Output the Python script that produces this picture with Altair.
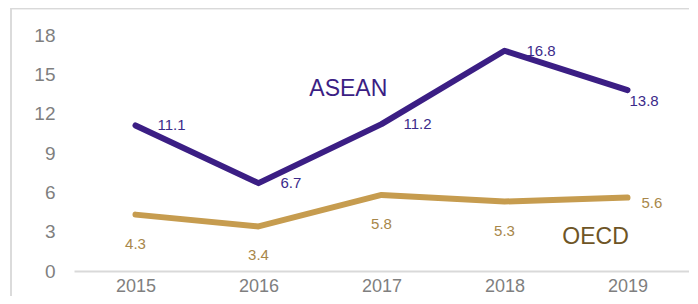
import altair as alt
import pandas as pd

years = [2015, 2016, 2017, 2018, 2019]
asean = [11.1, 6.7, 11.2, 16.8, 13.8]
oecd = [4.3, 3.4, 5.8, 5.3, 5.6]
y_ticks = [0, 3, 6, 9, 12, 15, 18]

series_names = ["ASEAN", "OECD"]
series_label_x = [2016.73, 2018.74]
series_label_y = [13.9, 2.6]

PURPLE = "#3b1e84"
GOLD = "#c69c4f"
FONT = "Liberation Sans"

df = pd.DataFrame({
    "year": years * 2,
    "value": asean + oecd,
    "series": ["ASEAN"] * 5 + ["OECD"] * 5,
})
names_df = pd.DataFrame({"name": series_names, "x": series_label_x, "y": series_label_y})

xs = alt.Scale(domain=[2014.5, 2019.5], nice=False, zero=False)
ys = alt.Scale(domain=[0, 18], nice=False)

x_axis = alt.Axis(
    values=years, format="d", title=None, grid=False, ticks=False,
    domainColor="#d9d9d9", domainWidth=2, labelColor="#7f7f7f",
    labelFont=FONT, labelFontSize=18, labelPadding=20, labelBaseline="alphabetic",
    labelOverlap=False)
y_axis = alt.Axis(
    values=y_ticks, title=None, grid=False, ticks=False, domain=False,
    labelColor="#7f7f7f", labelFont=FONT, labelFontSize=19, labelPadding=19,
    labelOverlap=False, labelBound=False, labelFlush=False)

X = lambda: alt.X("year:Q", scale=xs, axis=x_axis)
Y = lambda: alt.Y("value:Q", scale=ys, axis=y_axis)

base = alt.Chart(df)

lines = base.mark_line(strokeWidth=6, strokeCap="round", strokeJoin="round").encode(
    x=X(), y=Y(),
    color=alt.Color("series:N", scale=alt.Scale(domain=["ASEAN", "OECD"], range=[PURPLE, GOLD]), legend=None),
    detail="series:N",
)

txt = dict(font=FONT, fontSize=15)
def labels(cond, color, **kw):
    return base.transform_filter(cond).mark_text(baseline="middle", color=color, **txt, **kw).encode(
        x=X(), y=Y(), text=alt.Text("value:Q", format=".1f"))

a_lab = labels("datum.series == 'ASEAN' && datum.year < 2019", "#3b2a8a", align="left", dx=22)
a_lab2 = labels("datum.series == 'ASEAN' && datum.year == 2019", "#3b2a8a", align="left", dx=2, dy=11)
o_lab = labels("datum.series == 'OECD' && datum.year < 2019", "#a8874a", align="center", dy=29)
o_lab2 = labels("datum.series == 'OECD' && datum.year == 2019", "#a8874a", align="left", dx=14, dy=5)

names = alt.Chart(names_df).mark_text(font=FONT, fontSize=23, baseline="middle", align="center").encode(
    x=alt.X("x:Q", scale=xs, axis=x_axis), y=alt.Y("y:Q", scale=ys, axis=y_axis), text="name:N",
    color=alt.Color("name:N", scale=alt.Scale(domain=["ASEAN", "OECD"], range=[PURPLE, "#6e5526"]), legend=None),
)

frame_top = alt.Chart(names_df).mark_rule(color="#d9d9d9", strokeWidth=1.5).encode(
    x=alt.value(-63), x2=alt.value(640), y=alt.value(-26.5))
frame_left = alt.Chart(names_df).mark_rule(color="#d9d9d9", strokeWidth=1.5).encode(
    x=alt.value(-63), y=alt.value(-27), y2=alt.value(300))

chart = alt.layer(frame_top, frame_left, lines, a_lab, a_lab2, o_lab, o_lab2, names).resolve_scale(
    color="independent"
).properties(
    width=615, height=236,
    autosize=alt.AutoSizeParams(type="none"),
    padding={"left": 66, "top": 27, "right": 0, "bottom": 25},
).configure_view(strokeWidth=0).configure_axis(labelOverlap=False)

chart.save("out.html", embed_options={"renderer": "svg", "actions": False})
